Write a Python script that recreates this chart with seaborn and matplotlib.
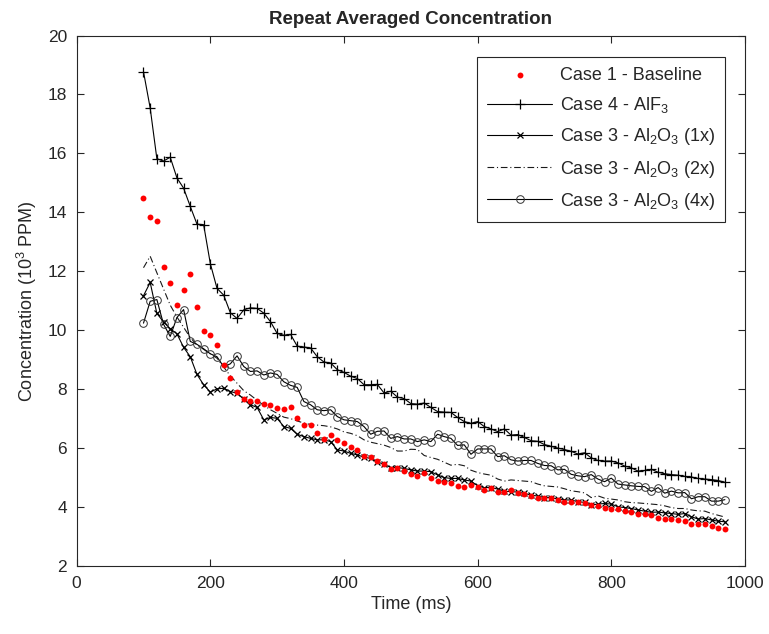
"""
Repeat averaged concentration vs time, five test cases.
Output: out.png
"""

import matplotlib
matplotlib.use('Agg')
import matplotlib.pyplot as plt
import numpy as np
import seaborn as sns

# time axis (ms), 10 ms steps
time_ms = np.arange(100, 980, 10)

# concentration, 10^3 PPM
baseline = [
    14.48, 13.85, 13.70, 12.14, 11.59, 10.87, 11.37, 11.91, 10.78, 9.97,
    9.83, 9.51, 8.83, 8.38, 7.92, 7.66, 7.60, 7.61, 7.49, 7.45,
    7.35, 7.33, 7.41, 7.01, 6.79, 6.77, 6.50, 6.31, 6.43, 6.28,
    6.16, 6.03, 5.94, 5.74, 5.69, 5.55, 5.45, 5.29, 5.34, 5.22,
    5.11, 5.06, 5.14, 5.00, 4.88, 4.84, 4.80, 4.72, 4.69, 4.75,
    4.69, 4.58, 4.66, 4.52, 4.50, 4.58, 4.46, 4.43, 4.36, 4.32,
    4.29, 4.29, 4.24, 4.18, 4.18, 4.16, 4.12, 4.07, 4.04, 3.98,
    3.95, 3.93, 3.87, 3.84, 3.76, 3.76, 3.73, 3.64, 3.59, 3.59,
    3.56, 3.52, 3.44, 3.41, 3.41, 3.36, 3.30, 3.25,
]
alf3 = [
    18.77, 17.54, 15.82, 15.74, 15.87, 15.17, 14.82, 14.20, 13.60, 13.58,
    12.26, 11.42, 11.19, 10.59, 10.40, 10.69, 10.76, 10.74, 10.58, 10.29,
    9.89, 9.83, 9.86, 9.46, 9.43, 9.40, 9.10, 8.92, 8.89, 8.66,
    8.57, 8.44, 8.36, 8.15, 8.15, 8.16, 7.87, 7.93, 7.73, 7.68,
    7.51, 7.49, 7.53, 7.38, 7.24, 7.22, 7.21, 7.04, 6.90, 6.84,
    6.90, 6.73, 6.65, 6.56, 6.65, 6.44, 6.46, 6.36, 6.25, 6.23,
    6.12, 6.06, 6.00, 5.95, 5.89, 5.80, 5.84, 5.67, 5.58, 5.56,
    5.56, 5.50, 5.39, 5.33, 5.22, 5.24, 5.28, 5.18, 5.13, 5.10,
    5.08, 5.04, 5.02, 4.97, 4.95, 4.93, 4.90, 4.84,
]
al2o3_1x = [
    11.17, 11.62, 10.57, 10.28, 10.05, 9.88, 9.42, 9.10, 8.50, 8.15,
    7.90, 8.01, 8.03, 7.92, 7.86, 7.66, 7.47, 7.38, 6.96, 7.04,
    7.01, 6.73, 6.67, 6.47, 6.39, 6.33, 6.28, 6.28, 6.22, 5.94,
    5.90, 5.82, 5.77, 5.69, 5.65, 5.53, 5.45, 5.34, 5.34, 5.31,
    5.26, 5.22, 5.22, 5.20, 5.09, 5.00, 4.97, 4.97, 4.92, 4.88,
    4.72, 4.66, 4.66, 4.61, 4.54, 4.52, 4.51, 4.46, 4.41, 4.37,
    4.32, 4.32, 4.27, 4.24, 4.24, 4.18, 4.16, 4.07, 4.10, 4.12,
    4.10, 4.01, 3.98, 3.95, 3.90, 3.86, 3.82, 3.83, 3.80, 3.78,
    3.75, 3.78, 3.67, 3.59, 3.61, 3.56, 3.52, 3.50,
]
al2o3_2x = [
    12.12, 12.51, 11.95, 11.40, 10.85, 10.45, 10.10, 9.75, 9.50, 9.35,
    9.20, 9.05, 8.75, 8.45, 8.20, 7.95, 7.80, 7.62, 7.45, 7.30,
    7.18, 7.05, 7.00, 6.92, 6.85, 6.80, 6.78, 6.76, 6.72, 6.65,
    6.55, 6.50, 6.42, 6.28, 6.20, 6.15, 6.10, 6.02, 5.90, 5.90,
    5.96, 5.95, 5.75, 5.68, 5.62, 5.52, 5.42, 5.45, 5.40, 5.25,
    5.17, 5.12, 5.08, 4.95, 4.88, 4.92, 4.90, 4.88, 4.86, 4.78,
    4.72, 4.70, 4.68, 4.62, 4.55, 4.52, 4.48, 4.32, 4.38, 4.30,
    4.27, 4.24, 4.18, 4.15, 4.14, 4.12, 4.10, 4.08, 4.04, 3.98,
    3.95, 3.95, 3.90, 3.87, 3.86, 3.78, 3.72, 3.66,
]
al2o3_4x = [
    10.24, 10.98, 11.04, 10.20, 9.79, 10.43, 10.70, 9.62, 9.52, 9.37,
    9.20, 9.10, 8.76, 8.86, 9.13, 8.77, 8.60, 8.62, 8.48, 8.55,
    8.50, 8.25, 8.13, 8.06, 7.58, 7.47, 7.30, 7.27, 7.30, 7.07,
    6.96, 6.93, 6.90, 6.73, 6.47, 6.57, 6.58, 6.33, 6.39, 6.31,
    6.31, 6.22, 6.28, 6.22, 6.47, 6.39, 6.33, 6.09, 6.11, 5.79,
    5.97, 5.97, 5.97, 5.71, 5.74, 5.60, 5.56, 5.58, 5.58, 5.48,
    5.41, 5.40, 5.26, 5.28, 5.11, 5.06, 5.03, 5.10, 4.95, 4.86,
    4.98, 4.78, 4.75, 4.72, 4.70, 4.69, 4.53, 4.66, 4.47, 4.54,
    4.48, 4.49, 4.28, 4.35, 4.35, 4.20, 4.20, 4.25,
]

labels = ['Case 1 - Baseline', 'Case 4 - AlF$_3$', 'Case 3 - Al$_2$O$_3$ (1x)',
          'Case 3 - Al$_2$O$_3$ (2x)', 'Case 3 - Al$_2$O$_3$ (4x)']

sns.set_style('ticks')
plt.rcParams['font.family'] = ['Liberation Sans', 'DejaVu Sans']
plt.rcParams['mathtext.fontset'] = 'custom'
plt.rcParams['mathtext.rm'] = 'Liberation Sans'
plt.rcParams['mathtext.it'] = 'Liberation Sans'
plt.rcParams['mathtext.bf'] = 'Liberation Sans:bold'

GRAY = '#262626'


def create_chart():
    fig = plt.figure(figsize=(7.69, 6.34), dpi=100)
    ax = fig.add_axes([0.0997, 0.1073, 0.869, 0.8367])

    sns.scatterplot(x=time_ms, y=baseline, ax=ax, color='red', s=18,
                    linewidth=0, label=labels[0], zorder=3)
    sns.lineplot(x=time_ms, y=alf3, ax=ax, color='black', linewidth=0.8,
                 marker='+', markersize=7, markeredgewidth=0.9,
                 markeredgecolor='black', label=labels[1])
    sns.lineplot(x=time_ms, y=al2o3_1x, ax=ax, color='black', linewidth=0.8,
                 marker='x', markersize=4.5, markeredgewidth=0.9,
                 markeredgecolor='black', label=labels[2])
    sns.lineplot(x=time_ms, y=al2o3_2x, ax=ax, color='#1a1a1a', linewidth=0.8,
                 linestyle=(0, (6, 2.5, 1, 2.5)), label=labels[3])
    sns.lineplot(x=time_ms, y=al2o3_4x, ax=ax, color='black', linewidth=0.8,
                 marker='o', markersize=5.5, markerfacecolor='none',
                 markeredgecolor='#333333', markeredgewidth=0.7, label=labels[4])

    ax.set_xlim(0, 1000)
    ax.set_ylim(2, 20)
    ax.set_xticks(np.arange(0, 1001, 200))
    ax.set_yticks(np.arange(2, 21, 2))
    ax.tick_params(direction='in', length=5, width=0.8, colors=GRAY,
                   labelsize=12.5, top=True, right=True, pad=7)
    for sp in ax.spines.values():
        sp.set_visible(True)
        sp.set_color(GRAY)
        sp.set_linewidth(0.8)

    ax.set_xlabel('Time (ms)', fontsize=13, color=GRAY, labelpad=4)
    ax.set_ylabel('Concentration (10$^3$ PPM)', fontsize=13, color=GRAY, labelpad=6)
    ax.set_title('Repeat Averaged Concentration', fontsize=13.5,
                 fontweight='bold', pad=8)

    leg = ax.legend(loc='upper right', bbox_to_anchor=(0.970, 0.9595),
                    borderaxespad=0, fontsize=13, handlelength=3.6,
                    handletextpad=0.4, labelspacing=0.62, numpoints=1,
                    scatterpoints=1, fancybox=False, framealpha=1,
                    edgecolor=GRAY, borderpad=0.55)
    leg.get_frame().set_linewidth(0.8)
    for t in leg.get_texts():
        t.set_color(GRAY)

    fig.savefig('out.png', dpi=100)
    plt.close(fig)


if __name__ == '__main__':
    create_chart()
